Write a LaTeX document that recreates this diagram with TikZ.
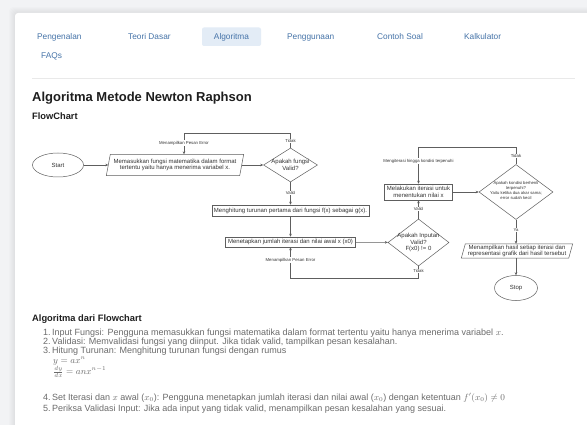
\documentclass[tikz,border=0pt]{standalone}
\usepackage[no-math]{fontspec}
\setmainfont{Liberation Sans}
\usetikzlibrary{arrows.meta,shapes.geometric,calc}
\definecolor{pagebg}{HTML}{F2F3F5}
\definecolor{navblue}{HTML}{4573A8}
\definecolor{navhl}{HTML}{E3ECF6}
\definecolor{rulec}{HTML}{E9E9E9}
\definecolor{fcline}{HTML}{5E5E5E}
\definecolor{fctext}{HTML}{333333}
\definecolor{bodytext}{HTML}{6B6B6B}
\definecolor{headtext}{HTML}{1E1E1E}
\tikzset{
  navitem/.style={font=\fontsize{8.3}{9}\selectfont, text=navblue, anchor=base west, inner sep=0pt},
  fcshape/.style={draw=fcline, line width=0.5pt},
  fcbox/.style={fcshape, fill=white, inner sep=0pt, font=\fontsize{6}{6.8}\selectfont, text=fctext, align=center},
  fcplain/.style={inner sep=0pt, font=\fontsize{6}{6.8}\selectfont, text=fctext, align=center},
  fcdia/.style={fcshape, diamond, inner sep=0pt},
  fcell/.style={fcshape, ellipse, inner sep=0pt, font=\fontsize{6}{7}\selectfont, text=fctext},
  fcarrow/.style={draw=fcline, line width=0.5pt, -{Stealth[length=3pt,width=2.6pt]}},
  fclabel/.style={font=\fontsize{4.3}{5}\selectfont, text=fctext, fill=white, inner sep=0.6pt},
  bodyline/.style={font=\fontsize{9}{9}\selectfont, text=bodytext, anchor=base west, inner sep=0pt},
  mathline/.style={font=\fontsize{8.6}{9}\selectfont, text=bodytext, anchor=base west, inner sep=0pt},
  subhead/.style={anchor=base west, inner sep=0pt, font=\fontsize{9.3}{10}\selectfont\bfseries, text=headtext},
}
\begin{document}
\begin{tikzpicture}[x=1pt,y=-1pt]
\useasboundingbox (0,0) rectangle (587,425);
\clip (0,0) rectangle (587,425);
% page background and card
\fill[pagebg] (0,0) rectangle (587,425);
\foreach \i in {1,...,6}{
  \fill[black, opacity=0.012, rounded corners=4] (15-\i,13-\i) rectangle (600+\i,440+\i);
}
\fill[white, rounded corners=3] (15,13) rectangle (600,440);

% navigation
\node[navitem] (nav1) at (37,40) {Pengenalan};
\node[navitem] (nav2) at (128,40) {Teori Dasar};
\fill[navhl, rounded corners=2] (202,27.5) rectangle (261,46);
\node[navitem, anchor=base] (nav3) at (231.5,40) {Algoritma};
\node[navitem] (nav4) at (287,40) {Penggunaan};
\node[navitem] (nav5) at (377,40) {Contoh Soal};
\node[navitem] (nav6) at (464,40) {Kalkulator};
\node[navitem] (nav7) at (41,59) {FAQs};
\draw[rulec, line width=0.8pt] (32,78) -- (575,78);

% headings
\node[anchor=west, inner sep=0pt, font=\fontsize{13}{14}\selectfont\bfseries, text=headtext] (title) at (32,98) {Algoritma Metode Newton Raphson};
\node[subhead] (fchead) at (32,119.3) {FlowChart};

% flowchart nodes
\node[fcell, minimum width=51pt, minimum height=24pt] (start) at (58,165) {Start};
\node[fcplain, minimum width=133pt, minimum height=21pt] (p1) at (175,165) {Memasukkan fungsi matematika dalam format\\tertentu yaitu hanya menerima variabel x.};
\draw[fcshape] ($(p1.south west)+(-2,0)$) -- ($(p1.north west)+(2,0)$) -- ($(p1.north east)+(2,0)$) -- ($(p1.south east)+(-2,0)$) -- cycle;
\node[fcdia, minimum width=54pt, minimum height=34pt] (d1) at (290.5,165) {};
\node[fcplain] (d1t) at (290.5,165) {Apakah fungsi\\Valid?};
\node[fcbox, minimum width=157pt, minimum height=11pt] (r1) at (290.5,210.5) {Menghitung turunan pertama dari fungsi f(x) sebagai g(x).};
\node[fcbox, minimum width=130pt, minimum height=10pt] (r2) at (290.5,242) {Menetapkan jumlah iterasi dan nilai awal x (x0)};
\node[fcdia, minimum width=61pt, minimum height=47pt] (d2) at (418.5,242.5) {};
\node[fcplain] (d2t) at (418.5,242.5) {Apakah Inputan\\Valid?\\F(x0) != 0};
\node[fcbox, minimum width=68pt, minimum height=16pt] (r3) at (418.5,192) {Melakukan iterasi untuk\\menentukan nilai x};
\node[fcdia, minimum width=74pt, minimum height=55pt] (d3) at (516,192) {};
\node[fcplain, font=\fontsize{4.2}{4.7}\selectfont] (d3t) at (516,190.5) {Apakah kondisi berhenti\\terpenuhi?\\Yaitu ketika dua akar sama;\\error sudah kecil};
\node[fcplain, minimum width=107pt, minimum height=14pt] (p2) at (517,251) {Menampilkan hasil setiap iterasi dan\\representasi grafik dari hasil tersebut};
\draw[fcshape] ($(p2.south west)+(-2,0)$) -- ($(p2.north west)+(2,0)$) -- ($(p2.north east)+(2,0)$) -- ($(p2.south east)+(-2,0)$) -- cycle;
\node[fcell, minimum width=43pt, minimum height=25pt] (stop) at (516,288) {Stop};

% connectors
\draw[fcarrow] (start) -- (p1);
\draw[fcarrow] (p1) -- (d1);
\draw[fcarrow] (d1.south) -- (d1.south |- r1.north);
\draw[fcarrow] (r1) -- (r2);
\draw[fcarrow] (r2) -- (d2);
\draw[fcarrow] (d2.north) -- (r3.south);
\draw[fcarrow] (r3) -- (d3);
\draw[fcarrow] (d3.south) -- (d3.south |- p2.north);
\draw[fcarrow] (d3.south |- p2.south) -- (stop.north);

\coordinate (c1) at (290.5,133);
\coordinate (c2) at (184,133);
\draw[fcarrow] (d1.north) -- (c1) -- (c2) -- (c2 |- p1.north);
\coordinate (c3) at (418.5,278);
\coordinate (c4) at (290.5,278);
\draw[fcarrow] (d2.south) -- (c3) -- (c4) -- (r2.south);
\coordinate (c5) at (516,147);
\coordinate (c6) at (418.5,147);
\draw[fcarrow] (d3.north) -- (c5) -- (c6) -- (r3.north);

% connector labels
\node[fclabel] (l1) at (290.5,141) {Tidak};
\node[fclabel] (l2) at (184,143) {Menampilkan Pesan Error};
\node[fclabel] (l3) at (290.5,193) {Valid};
\node[fclabel] (l4) at (418.5,271) {Tidak};
\node[fclabel] (l5) at (290.5,260) {Menampilkan Pesan Error};
\node[fclabel] (l6) at (418.5,209) {Valid};
\node[fclabel] (l7) at (516,156) {Tidak};
\node[fclabel] (l8) at (418.5,161) {Mengiterasi hingga kondisi terpenuhi};
\node[fclabel] (l9) at (516,230) {Ya};

% algorithm text
\node[subhead] (alghead) at (32,321.3) {Algoritma dari Flowchart};
\node[bodyline] (n1) at (43,335) {1.};
\node[bodyline] (i1) at (52,335) {Input Fungsi: Pengguna memasukkan fungsi matematika dalam format tertentu yaitu hanya menerima variabel $x$.};
\node[bodyline] (n2) at (43,344) {2.};
\node[bodyline] (i2) at (52,344) {Validasi: Memvalidasi fungsi yang diinput. Jika tidak valid, tampilkan pesan kesalahan.};
\node[bodyline] (n3) at (43,353) {3.};
\node[bodyline] (i3) at (52,353) {Hitung Turunan: Menghitung turunan fungsi dengan rumus};
\node[mathline] (m1) at (53,363) {$y = ax^n$};
\node[mathline, anchor=west] (m2) at (53,372) {$\frac{dy}{dx} = anx^{n-1}$};
\node[bodyline] (n4) at (43,400) {4.};
\node[bodyline] (i4) at (52,400) {Set Iterasi dan $x$ awal ($x_0$): Pengguna menetapkan jumlah iterasi dan nilai awal ($x_0$) dengan ketentuan $f'(x_0) \neq 0$};
\node[bodyline] (n5) at (43,411) {5.};
\node[bodyline] (i5) at (52,411) {Periksa Validasi Input: Jika ada input yang tidak valid, menampilkan pesan kesalahan yang sesuai.};
\end{tikzpicture}
\end{document}
